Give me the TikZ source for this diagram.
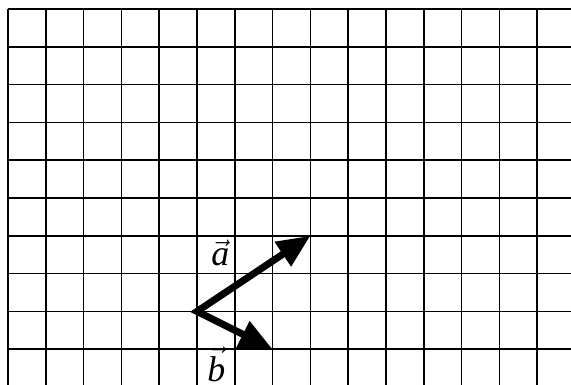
\documentclass[tikz,border=0pt]{standalone}
\usepackage{fontspec}
\setmainfont{Liberation Serif}
\usepackage{amsmath}
\usetikzlibrary{arrows.meta}

\begin{document}
\begin{tikzpicture}[font=\fontsize{27}{30}\selectfont,
                    >={Triangle[length=25pt,width=21pt]}]
  \tikzset{vecarrow/.style={line width=5.3pt, line join=miter},
           lab/.style={anchor=base west, inner sep=0pt}}
  \useasboundingbox (-0.2116,-0.921) rectangle (14.894,9.238);
  \clip (-0.2116,-0.921) rectangle (14.894,9.238);
  % squared paper, cut at the right and at the bottom
  \draw[line width=1.1pt] (0,-1) grid (15,9);

  \coordinate (O) at (5,1);
  \coordinate (A) at (8,3);
  \coordinate (B) at (7,0);
  \draw[vecarrow, <->] (A) -- (O) -- (B);

  \node[lab] (la) at (5.37,2.21)  {$\vec{\text{\itshape a}}$};
  \node[lab] (lb) at (5.27,-0.85) {$\vec{\text{\itshape b}}$};
\end{tikzpicture}
\end{document}
